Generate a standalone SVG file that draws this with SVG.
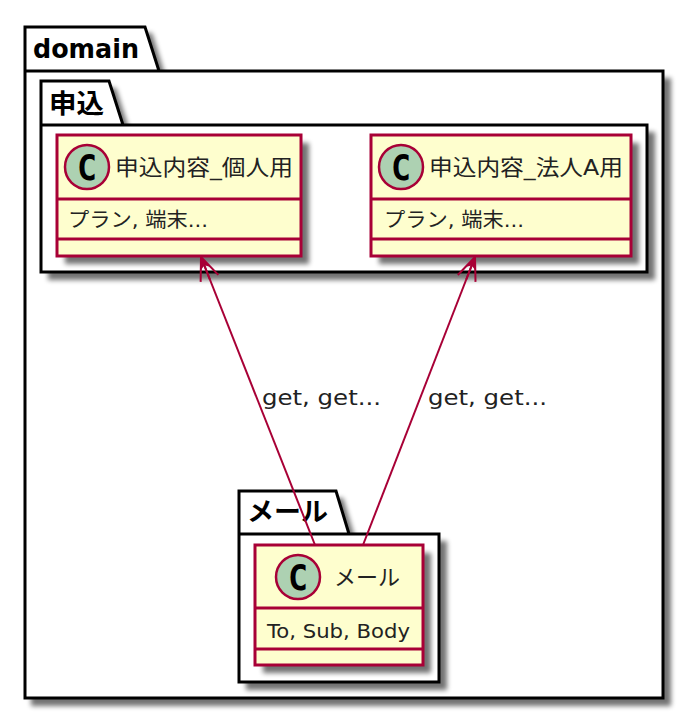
<svg xmlns="http://www.w3.org/2000/svg" width="696" height="718" viewBox="0 0 696 718">
<defs>
<filter id="sh" x="-10%" y="-10%" width="125%" height="125%"><feGaussianBlur stdDeviation="2.5"/></filter>
<marker id="open" viewBox="0 0 30 30" refX="0" refY="15" markerUnits="userSpaceOnUse" markerWidth="30" markerHeight="30" orient="auto"><path d="M23 5.5 L0 15 L23 24.5 M0 15 L24 15" fill="none" stroke="#A80036" stroke-width="2"/><path d="M0 15 L13 9 L9 15 L13 21Z" fill="#A80036"/></marker>
</defs>
<style>
.pk{fill:#fff;stroke:#000;stroke-width:3}
.s{fill:#000;opacity:.55;filter:url(#sh)}
.cl{fill:#FEFECE;stroke:#A80036;stroke-width:3}
.dv{stroke:#A80036;stroke-width:3;fill:none}
.ci{fill:#ADD1B2;stroke:#A80036;stroke-width:2.5}
.c{font-family:"DejaVu Sans Mono","Liberation Mono",monospace;font-weight:bold;font-size:36px;fill:#000;text-anchor:middle}
.t{font-family:"DejaVu Sans","Noto Sans CJK JP",sans-serif;fill:#000}
.pt{font-size:26px;font-weight:bold}
.ct{font-size:22px;fill:#222}
.mb{font-size:20px;fill:#222}
.lb{font-size:22px;fill:#222}
.cn{stroke:#A80036;stroke-width:2;fill:none;marker-start:url(#open)}
</style>
<g id="pkg-domain">
<path class="s" d="M31 33H152L166 78H671V706H31Z"/>
<path class="pk" d="M25 27H145L159 71H663V698H25ZM25 71H159"/>
<text class="t pt" x="33" y="58" textLength="106" lengthAdjust="spacingAndGlyphs">domain</text>
</g>
<g id="pkg-moushikomi">
<path class="s" d="M48 88H116L130 132H655V280H48Z"/>
<path class="pk" d="M41 81H109L123 125H647V272H41ZM41 125H123"/>
<text class="t pt" x="49" y="113" textLength="55" lengthAdjust="spacingAndGlyphs">申込</text>
</g>
<g id="pkg-mail">
<path class="s" d="M246 498H343L356 541H447V690H246Z"/>
<path class="pk" d="M239 491H336L349 534H439V682H239ZM239 534H349"/>
<text class="t pt" x="247" y="521" textLength="81" lengthAdjust="spacingAndGlyphs">メール</text>
</g>
<g id="class-kojin">
<rect class="s" x="65" y="143" width="244" height="121"/>
<rect class="cl" x="57" y="135" width="244" height="121"/>
<path class="dv" d="M57 199H301M57 239H301"/>
<circle class="ci" cx="87" cy="167" r="22"/>
<text class="c" x="87" y="180" textLength="20" lengthAdjust="spacingAndGlyphs">C</text>
<text class="t ct" x="115" y="175" textLength="178" lengthAdjust="spacingAndGlyphs">申込内容_個人用</text>
<text class="t mb" x="68" y="227" textLength="140" lengthAdjust="spacingAndGlyphs">プラン, 端末...</text>
</g>
<g id="class-houjin">
<rect class="s" x="379" y="143" width="260" height="121"/>
<rect class="cl" x="371" y="135" width="260" height="121"/>
<path class="dv" d="M371 199H631M371 239H631"/>
<circle class="ci" cx="401" cy="167" r="22"/>
<text class="c" x="401" y="180" textLength="20" lengthAdjust="spacingAndGlyphs">C</text>
<text class="t ct" x="429" y="175" textLength="194" lengthAdjust="spacingAndGlyphs">申込内容_法人A用</text>
<text class="t mb" x="384" y="227" textLength="140" lengthAdjust="spacingAndGlyphs">プラン, 端末...</text>
</g>
<g id="class-mail">
<rect class="s" x="263" y="553" width="168" height="120"/>
<rect class="cl" x="255" y="545" width="168" height="120"/>
<path class="dv" d="M255 608H423M255 649H423"/>
<circle class="ci" cx="298" cy="577" r="22"/>
<text class="c" x="298" y="590" textLength="20" lengthAdjust="spacingAndGlyphs">C</text>
<text class="t ct" x="334" y="585" textLength="66" lengthAdjust="spacingAndGlyphs">メール</text>
<text class="t mb" x="267" y="638" textLength="143" lengthAdjust="spacingAndGlyphs">To, Sub, Body</text>
</g>
<g id="connectors">
<path class="cn" d="M201 257L315 545"/>
<path class="cn" d="M475 257L363 545"/>
<text class="t lb" x="262" y="405" textLength="119" lengthAdjust="spacingAndGlyphs">get, get...</text>
<text class="t lb" x="428" y="405" textLength="119" lengthAdjust="spacingAndGlyphs">get, get...</text>
</g>
</svg>
